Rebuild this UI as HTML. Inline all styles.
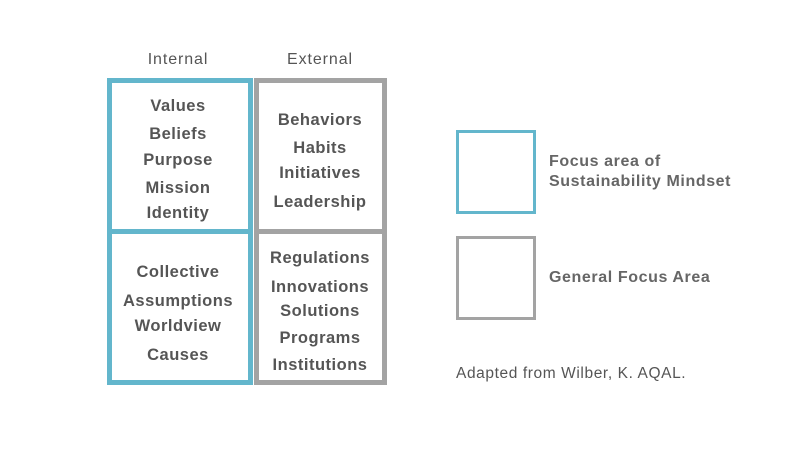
<!DOCTYPE html>
<html><head><style>
body{margin:0;width:800px;height:450px;background:#fff;position:relative;overflow:hidden;font-family:"Liberation Sans",sans-serif;color:#555;}
.t{position:absolute;height:20px;line-height:20px;font-size:16.5px;letter-spacing:0.5px;font-weight:bold;text-align:center;width:160px;white-space:nowrap;}
.l{left:98px}.r{left:240px}
.b{position:absolute;box-sizing:border-box;}
</style></head><body>
<div class="b" style="left:254px;top:78px;width:133px;height:307px;border:5px solid #a3a3a3"></div>
<div class="b" style="left:254px;top:229px;width:133px;height:5px;background:#a3a3a3"></div>
<div class="b" style="left:107px;top:78px;width:146px;height:307px;border:5px solid #63b6cc"></div>
<div class="b" style="left:107px;top:229px;width:146px;height:5px;background:#63b6cc"></div>

<div class="t l" style="top:50px;font-weight:normal;font-size:16px;letter-spacing:0.9px">Internal</div>
<div class="t r" style="top:50px;font-weight:normal;font-size:16px;letter-spacing:0.9px">External</div>

<div class="t l" style="top:96px">Values</div>
<div class="t l" style="top:124px">Beliefs</div>
<div class="t l" style="top:150px">Purpose</div>
<div class="t l" style="top:178px">Mission</div>
<div class="t l" style="top:203px">Identity</div>

<div class="t r" style="top:110px">Behaviors</div>
<div class="t r" style="top:138px">Habits</div>
<div class="t r" style="top:163px">Initiatives</div>
<div class="t r" style="top:192px">Leadership</div>

<div class="t l" style="top:262px">Collective</div>
<div class="t l" style="top:291px">Assumptions</div>
<div class="t l" style="top:316px">Worldview</div>
<div class="t l" style="top:345px">Causes</div>

<div class="t r" style="top:248px">Regulations</div>
<div class="t r" style="top:277px">Innovations</div>
<div class="t r" style="top:301px">Solutions</div>
<div class="t r" style="top:328px">Programs</div>
<div class="t r" style="top:355px">Institutions</div>

<div class="b" style="left:456px;top:130px;width:80px;height:84px;border:3px solid #63b6cc"></div>
<div class="b" style="left:456px;top:236px;width:80px;height:84px;border:3px solid #a3a3a3"></div>
<div style="position:absolute;left:549px;top:152px;font-size:16px;letter-spacing:0.6px;font-weight:bold;line-height:20px;color:#666;white-space:nowrap">Focus area of<br>Sustainability Mindset</div>
<div style="position:absolute;left:549px;top:268px;font-size:16px;letter-spacing:0.6px;font-weight:bold;line-height:20px;color:#666;white-space:nowrap">General Focus Area</div>
<div style="position:absolute;left:456px;top:364px;font-size:15.5px;letter-spacing:0.6px;line-height:20px;color:#555;white-space:nowrap">Adapted from Wilber, K. AQAL.</div>
</body></html>
